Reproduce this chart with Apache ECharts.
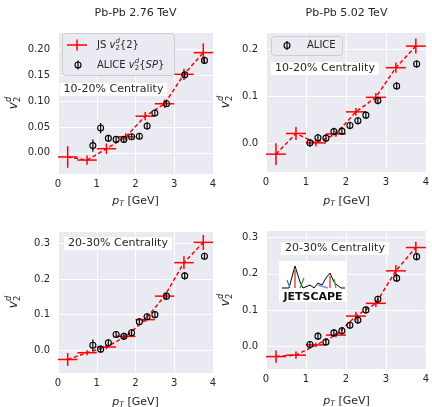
<!DOCTYPE html>
<html>
<head>
<meta charset="utf-8">
<script src="https://cdn.jsdelivr.net/npm/echarts@6/dist/echarts.min.js"></script>
<style>
  html, body { margin: 0; padding: 0; background: #fff; }
  #main { width: 432px; height: 407px; }
</style>
</head>
<body>
<div id="main"></div>
<script>
// JS model: pT bin centres (bins are 0.5 GeV wide)
var jsPt = [0.25, 0.75, 1.25, 1.75, 2.25, 2.75, 3.25, 3.75];
var jsBinHalf = 0.25;

// Pb-Pb 2.76 TeV, 10-20%
var js276c1 = [-0.008, -0.014, 0.008, 0.031, 0.071, 0.095, 0.152, 0.194];
var js276c1Err = [0.021, 0.009, 0.010, 0.007, 0.008, 0.008, 0.011, 0.018];
var alicePt276 = [0.9, 1.1, 1.3, 1.5, 1.7, 1.9, 2.1, 2.3, 2.5, 2.8, 3.27, 3.78];
var alice276c1 = [0.014, 0.048, 0.028, 0.026, 0.026, 0.031, 0.032, 0.052, 0.077, 0.095, 0.151, 0.179];
var alice276c1Err = [0.012, 0.010, 0.007, 0.006, 0.006, 0.006, 0.006, 0.007, 0.006, 0.006, 0.006, 0.007];

// Pb-Pb 5.02 TeV, 10-20%
var js502c1 = [-0.023, 0.021, 0.001, 0.020, 0.067, 0.098, 0.161, 0.207];
var js502c1Err = [0.023, 0.014, 0.007, 0.006, 0.008, 0.009, 0.011, 0.016];
var alicePt502 = [1.1, 1.3, 1.5, 1.7, 1.9, 2.1, 2.3, 2.5, 2.8, 3.27, 3.77];
var alice502c1 = [0.001, 0.012, 0.011, 0.025, 0.026, 0.038, 0.048, 0.060, 0.091, 0.122, 0.169];
var alice502c1Err = [0.008, 0.008, 0.008, 0.008, 0.008, 0.008, 0.008, 0.008, 0.008, 0.008, 0.008];

// Pb-Pb 2.76 TeV, 20-30%
var js276c2 = [-0.026, -0.007, 0.009, 0.039, 0.086, 0.152, 0.246, 0.303];
var js276c2Err = [0.018, 0.007, 0.006, 0.006, 0.007, 0.010, 0.018, 0.021];
var alice276c2 = [0.014, 0.003, 0.021, 0.044, 0.039, 0.049, 0.080, 0.094, 0.100, 0.152, 0.209, 0.264];
var alice276c2Err = [0.016, 0.010, 0.010, 0.010, 0.010, 0.010, 0.010, 0.010, 0.010, 0.010, 0.010, 0.010];

// Pb-Pb 5.02 TeV, 20-30%
var js502c2 = [-0.027, -0.023, 0.005, 0.032, 0.084, 0.119, 0.208, 0.272];
var js502c2Err = [0.017, 0.010, 0.006, 0.006, 0.012, 0.010, 0.016, 0.016];
var alice502c2 = [0.006, 0.029, 0.013, 0.038, 0.044, 0.059, 0.073, 0.101, 0.130, 0.188, 0.247];
var alice502c2Err = [0.010, 0.010, 0.010, 0.010, 0.010, 0.010, 0.010, 0.010, 0.010, 0.010, 0.010];

var titles = ['Pb-Pb 2.76 TeV', 'Pb-Pb 5.02 TeV'];
var centralities = ['10-20% Centrality', '10-20% Centrality', '20-30% Centrality', '20-30% Centrality'];

var FONT = 'DejaVu Sans';
var INK = '#262626';

var panels = [
    {grid: {left: 58, top: 32, width: 155, height: 142}, y: [-0.041, 0.234], step: 0.05, dec: 2,
        js: js276c1, jsErr: js276c1Err, apt: alicePt276, al: alice276c1, alErr: alice276c1Err},
    {grid: {left: 266, top: 32, width: 161, height: 140}, y: [-0.061, 0.237], step: 0.1, dec: 1,
        js: js502c1, jsErr: js502c1Err, apt: alicePt502, al: alice502c1, alErr: alice502c1Err},
    {grid: {left: 58, top: 231, width: 155, height: 142}, y: [-0.064, 0.335], step: 0.1, dec: 1,
        js: js276c2, jsErr: js276c2Err, apt: alicePt276, al: alice276c2, alErr: alice276c2Err},
    {grid: {left: 266, top: 230, width: 161, height: 139}, y: [-0.061, 0.32], step: 0.1, dec: 1,
        js: js502c2, jsErr: js502c2Err, apt: alicePt502, al: alice502c2, alErr: alice502c2Err}
];

// text measuring for the little mathtext labels
var mctx = document.createElement('canvas').getContext('2d');
function measure(t, size, italic) {
    mctx.font = (italic ? 'italic ' : '') + size + 'px "' + FONT + '"';
    return mctx.measureText(t).width;
}

// tokens: {t, it, sc, dy, stack}; returns children laid out from x=0 and the width
function mathRow(tokens, size) {
    var x = 0, prevX = 0, prevW = 0, kids = [];
    tokens.forEach(function (tok) {
        var s = size * (tok.sc || 1);
        var w = measure(tok.t, s, tok.it);
        var tx = tok.stack ? prevX : x;
        kids.push({
            type: 'text', x: tx, y: (tok.dy || 0) * size, z: 100,
            style: {text: tok.t, fill: INK, fontSize: s, fontFamily: FONT,
                fontStyle: tok.it ? 'italic' : 'normal',
                align: 'left', verticalAlign: 'middle', textAlign: 'left', textVerticalAlign: 'middle'}
        });
        if (tok.stack) {
            x = prevX + Math.max(prevW, w);
        } else {
            prevX = tx; prevW = w; x = tx + w;
        }
    });
    return {children: kids, width: x};
}

var v2d = [
    {t: 'v', it: true},
    {t: 'd', it: true, sc: 0.7, dy: -0.42},
    {t: '2', sc: 0.7, dy: 0.3, stack: true}
];

// rotated y label: every glyph turned 90deg ccw and placed around (cx, cy)
function yName(cx, cy) {
    var row = mathRow(v2d, 12);
    row.children.forEach(function (k) {
        var lx = k.x - row.width / 2, ly = k.y;
        k.x = cx + ly;
        k.y = cy - lx;
        k.rotation = Math.PI / 2;
    });
    return row.children;
}

function xName(cx, cy) {
    var row = mathRow([{t: 'p', it: true}, {t: 'T', it: true, sc: 0.7, dy: 0.3}, {t: ' [GeV]'}], 11);
    return {type: 'group', x: cx - row.width / 2, y: cy, z: 100, children: row.children};
}

function plainText(t, x, y, size, align, extra) {
    var st = {text: t, fill: INK, fontSize: size, fontFamily: FONT,
        align: align, verticalAlign: 'middle', textAlign: align, textVerticalAlign: 'middle'};
    if (extra) { for (var k in extra) st[k] = extra[k]; }
    return {type: 'text', x: x, y: y, z: 100, style: st};
}

function crossIcon(cx, cy, hw, hh) {
    return [
        {type: 'line', z: 100, shape: {x1: cx - hw, y1: cy, x2: cx + hw, y2: cy}, style: {stroke: '#ff0000', lineWidth: 1.5}},
        {type: 'line', z: 100, shape: {x1: cx, y1: cy - hh, x2: cx, y2: cy + hh}, style: {stroke: '#ff0000', lineWidth: 1.5}}
    ];
}
function phiIcon(cx, cy) {
    return [
        {type: 'line', z: 100, shape: {x1: cx, y1: cy - 4.5, x2: cx, y2: cy + 4.5}, style: {stroke: '#000', lineWidth: 1.2}},
        {type: 'circle', z: 100, shape: {cx: cx, cy: cy, r: 3}, style: {stroke: '#000', fill: 'none', lineWidth: 1.1}}
    ];
}

var graphics = [];
// titles
graphics.push(plainText(titles[0], 135.5, 13, 11, 'center'));
graphics.push(plainText(titles[1], 346.5, 13, 11, 'center'));
// axis names
graphics = graphics.concat(yName(14, 103), yName(226, 102), yName(14, 302), yName(226, 300));
graphics.push(xName(135.5, 201), xName(346.5, 201), xName(135.5, 402), xName(346.5, 401));

// centrality boxes
var cPos = [[113.5, 89.5], [325, 68.5], [118, 243.5], [335, 248.5]];
centralities.forEach(function (t, i) {
    graphics.push(plainText(t, cPos[i][0], cPos[i][1], 11, 'center',
        {backgroundColor: '#ffffff', padding: [1, 4, 1, 4]}));
});

// legend, top-left panel
graphics.push({type: 'rect', z: 99, shape: {x: 62.5, y: 33.5, width: 112, height: 42, r: 3},
    style: {fill: 'rgba(234,234,242,0.8)', stroke: '#cccccc', lineWidth: 1}});
graphics = graphics.concat(crossIcon(77, 45, 10, 5.5), phiIcon(78, 65));
var leg1 = mathRow([{t: 'JS '}].concat(v2d, [{t: '{2}'}]), 10);
graphics.push({type: 'group', x: 97, y: 45, z: 100, children: leg1.children});
var leg2 = mathRow([{t: 'ALICE '}].concat(v2d, [{t: '{'}, {t: 'SP', it: true}, {t: '}'}]), 10);
graphics.push({type: 'group', x: 97, y: 65, z: 100, children: leg2.children});

// legend, top-right panel
graphics.push({type: 'rect', z: 99, shape: {x: 271.5, y: 36.5, width: 71, height: 19, r: 3},
    style: {fill: 'rgba(234,234,242,0.8)', stroke: '#cccccc', lineWidth: 1}});
graphics = graphics.concat(phiIcon(287, 45.5));
graphics.push(plainText('ALICE', 307, 45.5, 10, 'left'));

// JETSCAPE logo
graphics.push({type: 'rect', z: 99, shape: {x: 279, y: 261, width: 68, height: 41}, style: {fill: '#ffffff'}});
graphics.push({type: 'polyline', z: 100, shape: {points: [[282, 288], [289, 288], [295, 266], [300, 282], [303, 288],
    [310, 285], [314, 288], [318, 283], [322, 285], [326, 278], [330, 273], [334, 282], [337, 285], [341, 288], [345, 288]]},
    style: {stroke: '#000', lineWidth: 1, fill: 'none'}});
graphics.push({type: 'line', z: 100, shape: {x1: 295, y1: 270, x2: 295, y2: 288}, style: {stroke: '#e02020', lineWidth: 1.2}});
graphics.push({type: 'line', z: 100, shape: {x1: 287, y1: 280, x2: 290, y2: 288}, style: {stroke: '#3060e0', lineWidth: 1.2}});
graphics.push({type: 'line', z: 100, shape: {x1: 304, y1: 278, x2: 300, y2: 288}, style: {stroke: '#20a040', lineWidth: 1.2}});
graphics.push({type: 'line', z: 100, shape: {x1: 318, y1: 285, x2: 328, y2: 288}, style: {stroke: '#7090f0', lineWidth: 1.5}});
graphics.push({type: 'line', z: 100, shape: {x1: 330, y1: 276, x2: 330, y2: 288}, style: {stroke: '#e02020', lineWidth: 1.2}});
graphics.push({type: 'line', z: 100, shape: {x1: 334, y1: 279, x2: 336, y2: 288}, style: {stroke: '#20a040', lineWidth: 1.2}});
graphics.push(plainText('JETSCAPE', 313, 297, 11, 'center', {fontWeight: 'bold', fill: '#111'}));

function zip() {
    var arrs = arguments;
    return arrs[0].map(function (_, i) {
        return Array.prototype.map.call(arrs, function (a) { return a[i]; });
    });
}

function renderCross(params, api) {
    var x = api.value(0), y = api.value(1), e = api.value(2);
    var l = api.coord([x - jsBinHalf, y]), r = api.coord([x + jsBinHalf, y]);
    var t = api.coord([x, y + e]), b = api.coord([x, y - e]);
    var st = {stroke: '#ff0000', lineWidth: 1.5};
    return {type: 'group', children: [
        {type: 'line', shape: {x1: l[0], y1: l[1], x2: r[0], y2: r[1]}, style: st},
        {type: 'line', shape: {x1: t[0], y1: t[1], x2: b[0], y2: b[1]}, style: st}
    ]};
}

function renderPhi(params, api) {
    var x = api.value(0), y = api.value(1), e = api.value(2);
    var c = api.coord([x, y]);
    var t = api.coord([x, y + e]), b = api.coord([x, y - e]);
    return {type: 'group', children: [
        {type: 'line', shape: {x1: t[0], y1: t[1], x2: b[0], y2: b[1]}, style: {stroke: '#000', lineWidth: 1.2}},
        {type: 'circle', shape: {cx: c[0], cy: c[1], r: 3}, style: {stroke: '#000', fill: 'none', lineWidth: 1.1}}
    ]};
}

var grids = [], xAxes = [], yAxes = [], series = [];
panels.forEach(function (p, i) {
    grids.push({left: p.grid.left, top: p.grid.top, width: p.grid.width, height: p.grid.height,
        show: true, backgroundColor: '#EAEAF2', borderWidth: 0});
    xAxes.push({
        type: 'value', gridIndex: i, min: 0, max: 4, interval: 1,
        axisLine: {show: false}, axisTick: {show: false},
        splitLine: {show: true, lineStyle: {color: '#ffffff', width: 1}},
        axisLabel: {color: INK, fontSize: 10, fontFamily: FONT, margin: 5}
    });
    yAxes.push({
        type: 'value', gridIndex: i, min: p.y[0], max: p.y[1],
        minInterval: p.step, maxInterval: p.step,
        axisLine: {show: false}, axisTick: {show: false},
        splitLine: {show: true, lineStyle: {color: '#ffffff', width: 1}},
        axisLabel: {color: INK, fontSize: 10, fontFamily: FONT, margin: 8,
            formatter: function (v) {
                var k = v / p.step;
                return Math.abs(k - Math.round(k)) < 1e-6 ? (Math.round(k) * p.step).toFixed(p.dec) : '';
            }}
    });
    series.push({
        type: 'line', xAxisIndex: i, yAxisIndex: i, z: 2,
        data: zip(jsPt, p.js), showSymbol: false, symbol: 'none', silent: true,
        lineStyle: {color: '#ff0000', width: 1.5, type: [4, 2.5]}
    });
    series.push({
        type: 'custom', xAxisIndex: i, yAxisIndex: i, z: 3,
        data: zip(jsPt, p.js, p.jsErr), renderItem: renderCross, encode: {x: 0, y: 1}
    });
    series.push({
        type: 'custom', xAxisIndex: i, yAxisIndex: i, z: 4,
        data: zip(p.apt, p.al, p.alErr), renderItem: renderPhi, encode: {x: 0, y: 1}
    });
});

var chart = echarts.init(document.getElementById('main'));
chart.setOption({
    animation: false,
    backgroundColor: '#ffffff',
    grid: grids,
    xAxis: xAxes,
    yAxis: yAxes,
    series: series,
    graphic: graphics
});
</script>
</body>
</html>
